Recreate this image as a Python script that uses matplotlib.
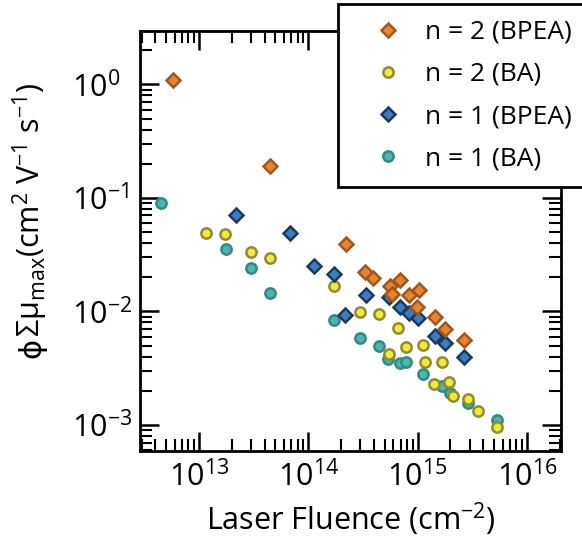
import matplotlib
matplotlib.use("Agg")
import matplotlib.pyplot as plt
from matplotlib.ticker import LogLocator, NullFormatter

plt.rcParams['font.family'] = ['Open Sans', 'DejaVu Sans']
plt.rcParams['mathtext.fontset'] = 'custom'
plt.rcParams['mathtext.rm'] = 'Open Sans'
plt.rcParams['mathtext.it'] = 'Open Sans:italic'
plt.rcParams['mathtext.bf'] = 'Open Sans:bold'

# ---- data (fluence in cm^-2, phi*Sum*mu in cm^2 V^-1 s^-1) ----
n2_bpea_x = [5.75e12, 4.45e13, 2.20e14, 3.28e14, 3.88e14, 5.55e14, 5.79e14,
             6.85e14, 8.33e14, 1.04e15, 9.8e14, 1.445e15, 1.765e15, 2.66e15]
n2_bpea_y = [1.095, 0.192, 0.0392, 0.0224, 0.0198, 0.0169, 0.01437,
             0.0191, 0.01394, 0.01543, 0.01104, 0.00902, 0.0070, 0.00555]

n2_ba_x = [1.16e13, 1.75e13, 2.97e13, 4.45e13, 1.71e14, 2.95e14, 4.40e14,
           6.64e14, 7.77e14, 5.47e14, 1.12e15, 1.16e15, 1.66e15, 1.40e15,
           1.95e15, 2.10e15, 2.91e15, 3.58e15, 5.32e15]
n2_ba_y = [0.0491, 0.0482, 0.0334, 0.0298, 0.01667, 0.00988, 0.00945,
           0.00715, 0.00483, 0.00418, 0.00506, 0.00357, 0.00357, 0.0023,
           0.00237, 0.00180, 0.00169, 0.00134, 0.00096]

n1_bpea_x = [2.21e13, 6.78e13, 1.12e14, 1.71e14, 2.18e14, 3.35e14, 5.47e14,
             6.92e14, 8.38e14, 1.01e15, 1.445e15, 1.78e15, 2.66e15]
n1_bpea_y = [0.0702, 0.0491, 0.0250, 0.0215, 0.00933, 0.01388, 0.01339,
             0.01104, 0.00978, 0.00879, 0.00608, 0.00527, 0.00397]

n1_ba_x = [4.50e12, 1.76e13, 2.97e13, 4.45e13, 1.71e14, 2.95e14, 4.41e14,
           5.36e14, 6.85e14, 7.85e14, 1.12e15, 1.66e15, 2.0e15, 2.91e15, 5.32e15]
n1_ba_y = [0.0902, 0.0355, 0.0242, 0.01458, 0.00844, 0.00586, 0.00494,
           0.00378, 0.00355, 0.00359, 0.00281, 0.0022, 0.0019, 0.00155, 0.0011]

labels = ['n = 2 (BPEA)', 'n = 2 (BA)', 'n = 1 (BPEA)', 'n = 1 (BA)']

W, H = 582, 548
fig = plt.figure(figsize=(W / 100, H / 100), dpi=100)
ax = fig.add_axes([140/W, 1 - 451/H, 421/W, 420/H])

mew = 1.8
h_n1ba, = ax.plot(n1_ba_x, n1_ba_y, 'o', ms=7.4, mfc='#4DB5AE', mec='#2F8A84',
                  mew=mew, ls='none', zorder=3)
h_n2ba, = ax.plot(n2_ba_x, n2_ba_y, 'o', ms=7.4, mfc='#F2EA3A', mec='#8E8C2E',
                  mew=mew, ls='none', zorder=4)
h_n1bp, = ax.plot(n1_bpea_x, n1_bpea_y, 'D', ms=7.6, mfc='#3D7CC0', mec='#1C3A5E',
                  mew=mew, ls='none', zorder=5)
h_n2bp, = ax.plot(n2_bpea_x, n2_bpea_y, 'D', ms=7.6, mfc='#E8842F', mec='#A0561E',
                  mew=mew, ls='none', zorder=6)

ax.set_xscale('log')
ax.set_yscale('log')
ax.set_xlim(2.9e12, 2.05e16)
ax.set_ylim(5.9e-4, 2.95)

ax.xaxis.set_major_locator(LogLocator(base=10, numticks=20))
ax.xaxis.set_minor_locator(LogLocator(base=10, subs=range(2, 10), numticks=20))
ax.yaxis.set_major_locator(LogLocator(base=10, numticks=20))
ax.yaxis.set_minor_locator(LogLocator(base=10, subs=range(2, 10), numticks=20))
ax.xaxis.set_minor_formatter(NullFormatter())
ax.yaxis.set_minor_formatter(NullFormatter())

for s in ax.spines.values():
    s.set_linewidth(2.0)
ax.tick_params(which='both', direction='in', top=True, right=True,
               labelsize=22)
ax.tick_params(which='major', length=14, width=1.8)
ax.tick_params(which='minor', length=8.5, width=1.5)
ax.tick_params(axis='x', which='major', pad=7)
ax.tick_params(axis='y', which='major', pad=49)
for lab in ax.get_yticklabels():
    lab.set_horizontalalignment('left')

ax.set_xlabel(r'Laser Fluence (cm$^{-2}$)', fontsize=22, labelpad=5)

# y label in two parts: the stroke phi comes from DejaVu Sans (fallback)
x0, y0 = 40 / W, 1 - 358 / H
t1 = fig.text(x0, y0, 'ϕ', rotation=90, rotation_mode='anchor',
              ha='left', va='baseline', fontsize=22,
              family=['Open Sans', 'DejaVu Sans'])
renderer = fig.canvas.get_renderer()
bb = t1.get_window_extent(renderer)
fig.text(x0, y0 + (bb.height + 1) / H,
         r'Σ$\mathrm{\mu}_{\mathrm{max}}$(cm$^{2}$ V$^{-1}$ s$^{-1}$)',
         rotation=90, rotation_mode='anchor', ha='left', va='baseline',
         fontsize=22)

leg = fig.legend([h_n2bp, h_n2ba, h_n1bp, h_n1ba], labels,
                 loc='upper left', bbox_to_anchor=(338/W, 0, 0.5, 1 - 4/H),
                 bbox_transform=fig.transFigure, mode='expand', fontsize=19,
                 frameon=True, fancybox=False, framealpha=1, edgecolor='black',
                 borderpad=0.6, labelspacing=0.65, handlelength=2.6,
                 handletextpad=0.1, borderaxespad=0)
leg.get_frame().set_linewidth(2.0)
leg.set_zorder(10)

fig.savefig('out.png', dpi=100)
